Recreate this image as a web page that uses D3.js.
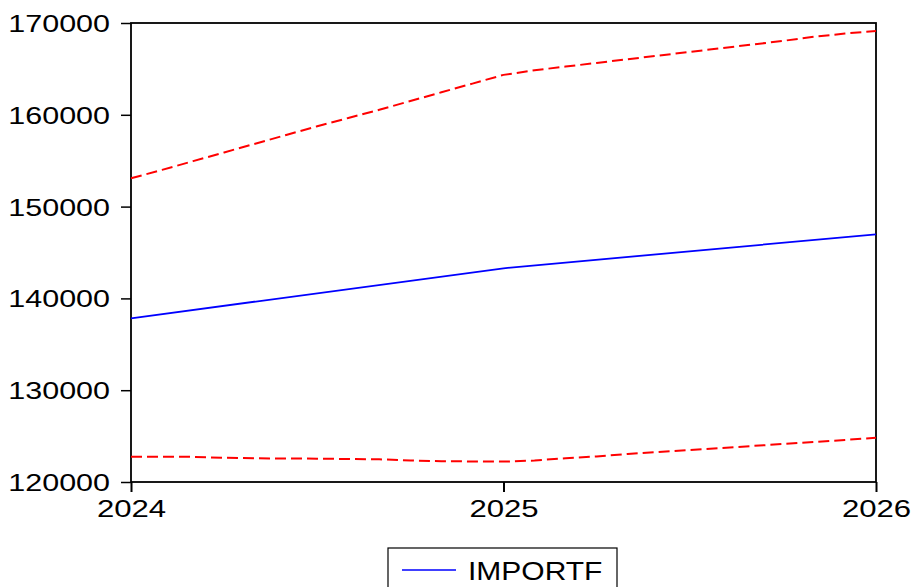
<!DOCTYPE html>
<html>
<head>
<meta charset="utf-8">
<script src="https://cdn.jsdelivr.net/npm/d3@7"></script>
<style>
  html, body { margin: 0; padding: 0; background: #fff; }
  svg { display: block; }
  text { font-family: "Liberation Sans", Arial, sans-serif; fill: #000; }
</style>
</head>
<body>
<svg id="chart" width="912" height="587"></svg>
<script>
// Forecast of IMPORTF with upper / lower bands (monthly band points)
const forecastYears = [2024, 2025, 2026];
const importf = [137830, 143280, 146980];

const bandMonths = d3.range(0, 25); // months after Jan 2024
const upperBand = [153080, 154000, 154950, 155900, 156850, 157800, 158750, 159650,
                   160550, 161500, 162450, 163400, 164350, 164850, 165250, 165650,
                   166050, 166450, 166850, 167250, 167650, 168050, 168500, 168850, 169130];
const lowerBand = [122760, 122760, 122740, 122640, 122580, 122560, 122540, 122510,
                   122470, 122340, 122260, 122240, 122220, 122340, 122590, 122780,
                   123050, 123270, 123490, 123700, 123920, 124140, 124360, 124580, 124830];

const yTicks = [120000, 130000, 140000, 150000, 160000, 170000];
const xTicks = [2024, 2025, 2026];
const legendLabel = "IMPORTF";

const svg = d3.select("#chart");
const plotL = 131, plotR = 876, plotT = 23, plotB = 482;
const stretch = 1.27; // horizontal text widening

const x = d3.scaleLinear().domain([2024, 2026]).range([plotL, plotR]);
const y = d3.scaleLinear().domain([120000, 170000]).range([plotB, plotT]);

// plot frame
svg.append("rect")
  .attr("x", plotL).attr("y", plotT)
  .attr("width", plotR - plotL).attr("height", plotB - plotT)
  .attr("fill", "none").attr("stroke", "#000").attr("stroke-width", 1.8);

// y axis ticks
const yAxis = svg.append("g").attr("transform", `translate(${plotL},0)`)
  .call(d3.axisLeft(y).tickValues(yTicks).tickSize(10).tickFormat(d3.format("d")));
yAxis.select(".domain").remove();
yAxis.selectAll("line").attr("stroke", "#000").attr("stroke-width", 1.5);
yAxis.selectAll("text")
  .attr("x", null).attr("dy", null)
  .style("font-size", "24px")
  .attr("text-anchor", "end")
  .attr("transform", `translate(-21,8.5) scale(${stretch},1)`);

// x axis ticks
const xAxis = svg.append("g").attr("transform", `translate(0,${plotB})`)
  .call(d3.axisBottom(x).tickValues(xTicks).tickSize(10).tickFormat(d3.format("d")));
xAxis.select(".domain").remove();
xAxis.selectAll("line").attr("stroke", "#000").attr("stroke-width", 2);
xAxis.selectAll("text")
  .attr("y", null).attr("dy", null)
  .style("font-size", "24.5px")
  .attr("text-anchor", "middle")
  .attr("transform", `translate(0,35) scale(${stretch},1)`);

// bands
const monthX = m => x(2024 + m / 12);
const bandLine = d3.line().x((d, i) => monthX(bandMonths[i])).y(d => y(d));
[upperBand, lowerBand].forEach(b => {
  svg.append("path").datum(b)
    .attr("d", bandLine)
    .attr("fill", "none").attr("stroke", "#ff0000")
    .attr("stroke-width", 2).attr("stroke-dasharray", "11,5");
});

// forecast line
svg.append("path").datum(importf)
  .attr("d", d3.line().x((d, i) => x(forecastYears[i])).y(d => y(d)))
  .attr("fill", "none").attr("stroke", "#0000ff").attr("stroke-width", 1.8);

// legend
const lg = svg.append("g");
lg.append("rect").attr("x", 388).attr("y", 548).attr("width", 229).attr("height", 45)
  .attr("fill", "#fff").attr("stroke", "#000").attr("stroke-width", 1.2);
lg.append("line").attr("x1", 402).attr("x2", 456).attr("y1", 570).attr("y2", 570)
  .attr("stroke", "#0000ff").attr("stroke-width", 1.6);
lg.append("text").text(legendLabel)
  .style("font-size", "25px")
  .attr("transform", `translate(468,580) scale(1.2,1)`);
</script>
</body>
</html>
